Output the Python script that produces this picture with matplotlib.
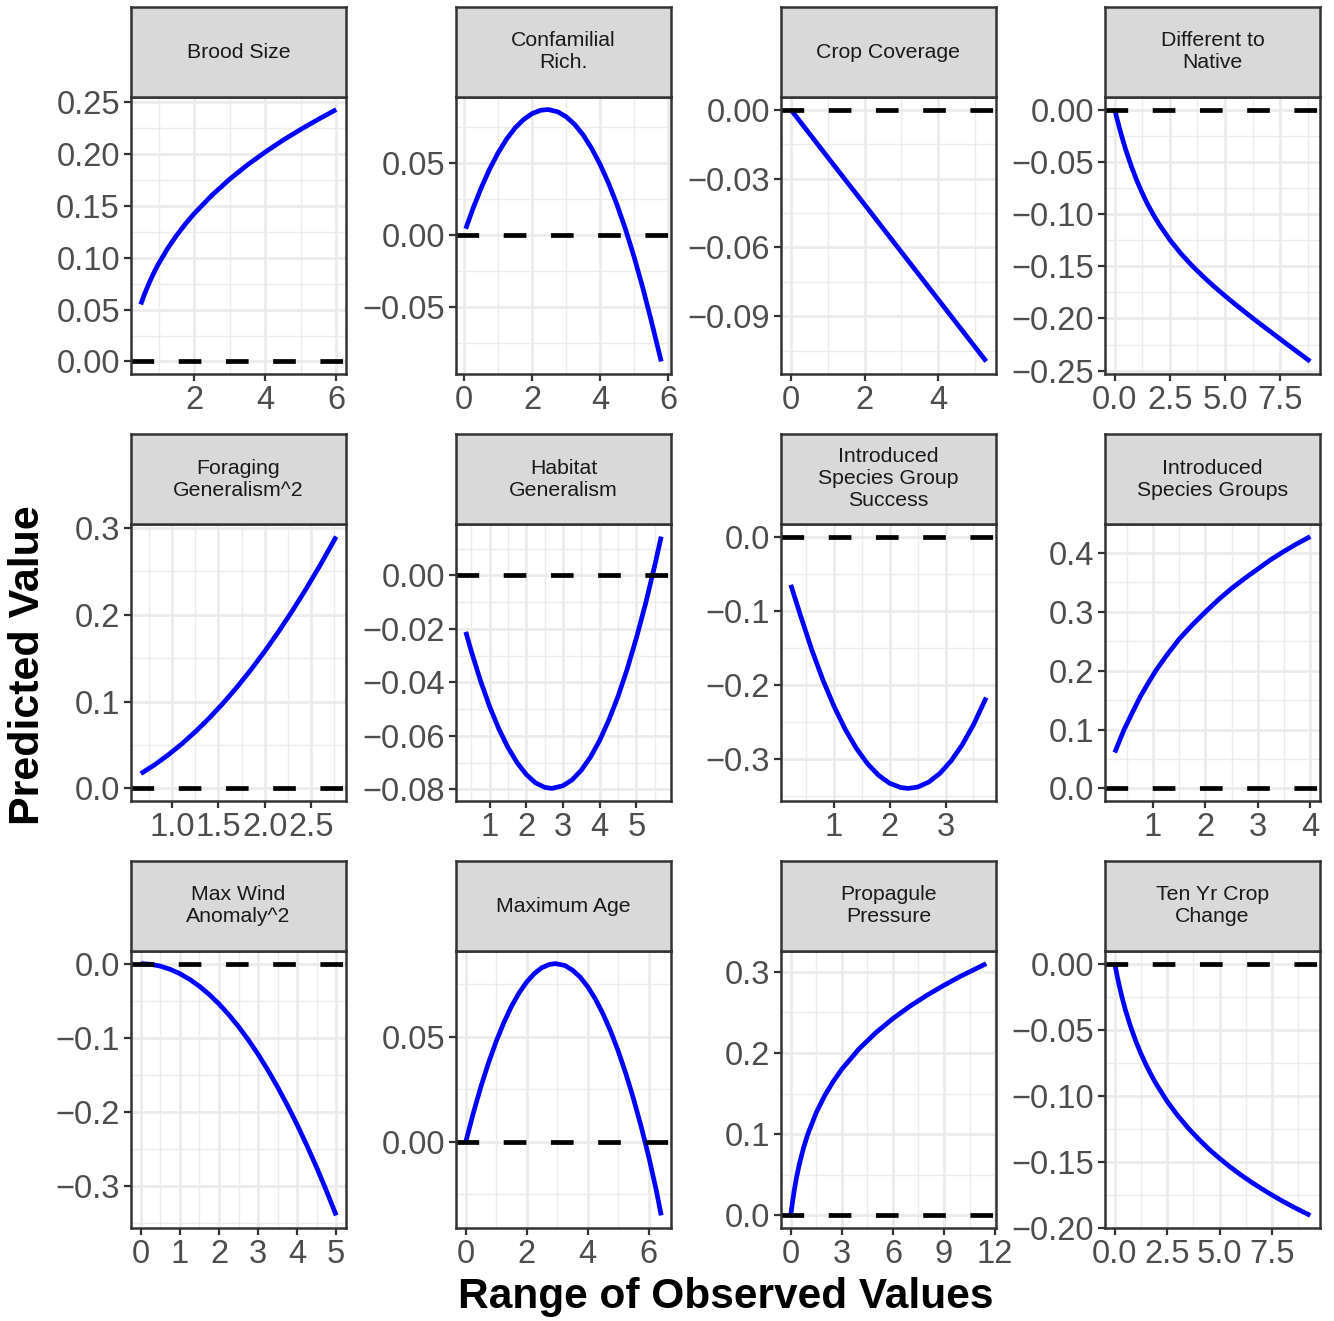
import matplotlib
matplotlib.use("Agg")
import matplotlib.pyplot as plt
from matplotlib.ticker import AutoMinorLocator, FixedLocator

plt.rcParams['font.family'] = ['Liberation Sans', 'DejaVu Sans']

# ---------------- data ----------------
titles = ["Brood Size", "Confamilial\nRich.", "Crop Coverage", "Different to\nNative",
          "Foraging\nGeneralism^2", "Habitat\nGeneralism", "Introduced\nSpecies Group\nSuccess",
          "Introduced\nSpecies Groups", "Max Wind\nAnomaly^2", "Maximum Age",
          "Propagule\nPressure", "Ten Yr Crop\nChange"]

brood_x = [0.5, 0.6, 0.75, 0.9, 1.0, 1.25, 1.5, 1.75, 2.0, 2.5, 3.0, 3.5, 4.0, 4.5, 5.0, 5.5, 6.0]
brood_y = [0.0550, 0.0645, 0.0769, 0.0877, 0.0942, 0.1087, 0.1212, 0.1324, 0.1425, 0.1603,
           0.1758, 0.1896, 0.2020, 0.2134, 0.2239, 0.2337, 0.2430]

confam_x = [0.05, 0.25, 0.5, 0.75, 1.0, 1.25, 1.5, 1.75, 2.0, 2.25, 2.44, 2.5, 2.75, 3.0, 3.25,
            3.5, 3.75, 4.0, 4.25, 4.5, 4.75, 5.0, 5.25, 5.5, 5.8]
confam_y = [0.0042, 0.0175, 0.0324, 0.0456, 0.0569, 0.0665, 0.0742, 0.0801, 0.0842, 0.0865,
            0.0870, 0.0869, 0.0855, 0.0821, 0.0768, 0.0695, 0.0602, 0.0490, 0.0359, 0.0208,
            0.0038, -0.0152, -0.0362, -0.0591, -0.0880]

crop_x = [0.0, 1.0, 2.0, 3.0, 4.0, 5.0, 5.3]
crop_y = [0.0, -0.0207, -0.0413, -0.062, -0.0827, -0.1034, -0.1096]

diff_x = [0.0, 0.1, 0.2, 0.35, 0.5, 0.75, 1.0, 1.25, 1.5, 1.75, 2.0, 2.5, 3.0, 3.5, 4.0, 4.5,
          5.0, 5.5, 6.0, 6.5, 7.0, 7.5, 8.0, 8.5, 8.86]
diff_y = [0.0, -0.0086, -0.0167, -0.0281, -0.0386, -0.0542, -0.0680, -0.0802, -0.0911, -0.1007,
          -0.1095, -0.1248, -0.1379, -0.1494, -0.1597, -0.1694, -0.1784, -0.1871, -0.1955,
          -0.2037, -0.2117, -0.2197, -0.2276, -0.2355, -0.2411]

forage_x = [0.66, 0.8, 0.95, 1.1, 1.25, 1.4, 1.55, 1.7, 1.85, 2.0, 2.15, 2.3, 2.45, 2.6, 2.775]
forage_y = [0.0170, 0.0265, 0.0380, 0.0509, 0.0652, 0.0809, 0.0980, 0.1165, 0.1364, 0.1577,
            0.1804, 0.2045, 0.2300, 0.2569, 0.2900]

habitat_x = [0.35, 0.5, 0.75, 1.0, 1.25, 1.5, 1.75, 2.0, 2.25, 2.5, 2.7, 3.0, 3.25, 3.5, 3.75,
             4.0, 4.25, 4.5, 4.75, 5.0, 5.25, 5.5, 5.68]
habitat_y = [-0.0211, -0.0283, -0.0393, -0.0490, -0.0573, -0.0643, -0.0700, -0.0744, -0.0775,
             -0.0792, -0.0796, -0.0786, -0.0764, -0.0728, -0.0679, -0.0617, -0.0541, -0.0453,
             -0.0351, -0.0235, -0.0107, 0.0035, 0.0145]

success_x = [0.224, 0.4, 0.6, 0.8, 1.0, 1.2, 1.4, 1.6, 1.8, 2.0, 2.2, 2.33, 2.5, 2.7, 2.9, 3.1,
             3.3, 3.5, 3.73]
success_y = [-0.0650, -0.1067, -0.1524, -0.1932, -0.2289, -0.2597, -0.2854, -0.3062, -0.3219,
             -0.3327, -0.3384, -0.3395, -0.3377, -0.3309, -0.3192, -0.3024, -0.2807, -0.2539,
             -0.2170]

groups_x = [0.269, 0.35, 0.447, 0.6, 0.75, 0.9, 1.05, 1.25, 1.5, 1.75, 2.0, 2.25, 2.5, 2.75,
            3.0, 3.25, 3.5, 3.75, 4.0]
groups_y = [0.061, 0.079, 0.100, 0.128, 0.155, 0.178, 0.200, 0.225, 0.254, 0.278, 0.300, 0.321,
            0.340, 0.357, 0.373, 0.389, 0.403, 0.416, 0.428]

wind_x = [0.0, 0.25, 0.5, 0.75, 1.0, 1.25, 1.5, 1.75, 2.0, 2.25, 2.5, 2.75, 3.0, 3.25, 3.5,
          3.75, 4.0, 4.25, 4.5, 4.75, 5.0]
wind_y = [0.0, -0.0009, -0.0034, -0.0077, -0.0136, -0.0213, -0.0306, -0.0417, -0.0544, -0.0689,
          -0.0850, -0.1029, -0.1224, -0.1437, -0.1666, -0.1913, -0.2176, -0.2457, -0.2754,
          -0.3069, -0.3400]

age_x = [0.0, 0.25, 0.5, 0.75, 1.0, 1.25, 1.5, 1.75, 2.0, 2.25, 2.5, 2.75, 2.94, 3.25, 3.5,
         3.75, 4.0, 4.25, 4.5, 4.75, 5.0, 5.25, 5.5, 5.75, 6.0, 6.25, 6.41]
age_y = [0.0, 0.0138, 0.0264, 0.0377, 0.0478, 0.0567, 0.0644, 0.0708, 0.0760, 0.0800, 0.0828,
         0.0843, 0.0847, 0.0838, 0.0816, 0.0783, 0.0737, 0.0679, 0.0608, 0.0526, 0.0431,
         0.0324, 0.0205, 0.0073, -0.0071, -0.0232, -0.0350]

prop_x = [0.0, 0.05, 0.1, 0.2, 0.35, 0.5, 0.75, 1.0, 1.5, 2.0, 2.5, 3.0, 4.0, 5.0, 6.0, 7.0,
          8.0, 9.0, 10.0, 11.48]
prop_y = [0.0, 0.0086, 0.0164, 0.0304, 0.0480, 0.0628, 0.0832, 0.1000, 0.1268, 0.1478, 0.1652,
          0.1801, 0.2049, 0.2251, 0.2424, 0.2576, 0.2711, 0.2834, 0.2948, 0.3101]

tenyr_x = [0.0, 0.1, 0.2, 0.35, 0.5, 0.75, 1.0, 1.25, 1.5, 1.75, 2.0, 2.5, 3.0, 3.5, 4.0, 4.5,
           5.0, 5.5, 6.0, 6.5, 7.0, 7.5, 8.0, 8.5, 9.0, 9.32]
tenyr_y = [0.0, -0.0083, -0.0157, -0.0258, -0.0347, -0.0475, -0.0586, -0.0683, -0.0769, -0.0847,
           -0.0918, -0.1043, -0.1150, -0.1245, -0.1329, -0.1406, -0.1475, -0.1539, -0.1598,
           -0.1653, -0.1704, -0.1752, -0.1798, -0.1841, -0.1881, -0.1906]

brood_xt = ["2", "4", "6"]
brood_yt = ["0.00", "0.05", "0.10", "0.15", "0.20", "0.25"]
confam_xt = ["0", "2", "4", "6"]
confam_yt = ["-0.05", "0.00", "0.05"]
crop_xt = ["0", "2", "4"]
crop_yt = ["-0.09", "-0.06", "-0.03", "0.00"]
diff_xt = ["0.0", "2.5", "5.0", "7.5"]
diff_yt = ["-0.25", "-0.20", "-0.15", "-0.10", "-0.05", "0.00"]
forage_xt = ["1.0", "1.5", "2.0", "2.5"]
forage_yt = ["0.0", "0.1", "0.2", "0.3"]
habitat_xt = ["1", "2", "3", "4", "5"]
habitat_yt = ["-0.08", "-0.06", "-0.04", "-0.02", "0.00"]
success_xt = ["1", "2", "3"]
success_yt = ["-0.3", "-0.2", "-0.1", "0.0"]
groups_xt = ["1", "2", "3", "4"]
groups_yt = ["0.0", "0.1", "0.2", "0.3", "0.4"]
wind_xt = ["0", "1", "2", "3", "4", "5"]
wind_yt = ["-0.3", "-0.2", "-0.1", "0.0"]
age_xt = ["0", "2", "4", "6"]
age_yt = ["0.00", "0.05"]
prop_xt = ["0", "3", "6", "9", "12"]
prop_yt = ["0.0", "0.1", "0.2", "0.3"]
tenyr_xt = ["0.0", "2.5", "5.0", "7.5"]
tenyr_yt = ["-0.20", "-0.15", "-0.10", "-0.05", "0.00"]

xlabel = "Range of Observed Values"
ylabel = "Predicted Value"

panels = [
    (brood_x, brood_y, brood_xt, brood_yt),
    (confam_x, confam_y, confam_xt, confam_yt),
    (crop_x, crop_y, crop_xt, crop_yt),
    (diff_x, diff_y, diff_xt, diff_yt),
    (forage_x, forage_y, forage_xt, forage_yt),
    (habitat_x, habitat_y, habitat_xt, habitat_yt),
    (success_x, success_y, success_xt, success_yt),
    (groups_x, groups_y, groups_xt, groups_yt),
    (wind_x, wind_y, wind_xt, wind_yt),
    (age_x, age_y, age_xt, age_yt),
    (prop_x, prop_y, prop_xt, prop_yt),
    (tenyr_x, tenyr_y, tenyr_xt, tenyr_yt),
]

# ---------------- layout ----------------
W, H = 1334, 1321
fig = plt.figure(figsize=(W / 100, H / 100), dpi=100)
fig.patch.set_facecolor("white")

col_left = [131, 456, 781, 1105]
row_top = [7, 434, 861]
PW, SH, PH = 215, 90, 277

BORDER = "#333333"
GRID = "#EBEBEB"


def frac(l, t, w, h):
    return [l / W, 1 - (t + h) / H, w / W, h / H]


def lab(s):
    return s.replace("-", "\u2212")


for i, (xs, ys, xt, yt) in enumerate(panels):
    r, c = divmod(i, 4)
    left, top = col_left[c], row_top[r]

    ax = fig.add_axes(frac(left, top + SH, PW, PH))
    sax = fig.add_axes(frac(left, top, PW, SH))

    # limits: data range (+0 for the reference line) expanded by 5 %
    x0, x1 = min(xs), max(xs)
    dx = x1 - x0
    ax.set_xlim(x0 - 0.05 * dx, x1 + 0.05 * dx)
    y0, y1 = min(min(ys), 0.0), max(max(ys), 0.0)
    dy = y1 - y0
    ax.set_ylim(y0 - 0.05 * dy, y1 + 0.05 * dy)

    ax.xaxis.set_major_locator(FixedLocator([float(v) for v in xt]))
    ax.yaxis.set_major_locator(FixedLocator([float(v) for v in yt]))
    ax.set_xticklabels([lab(v) for v in xt])
    ax.set_yticklabels([lab(v) for v in yt])
    ax.xaxis.set_minor_locator(AutoMinorLocator(2))
    ax.yaxis.set_minor_locator(AutoMinorLocator(2))

    ax.set_facecolor("white")
    ax.set_axisbelow(True)
    ax.grid(which="major", color=GRID, lw=2.0)
    ax.grid(which="minor", color=GRID, lw=1.0)
    ax.tick_params(which="major", length=5, width=1.6, color=BORDER,
                   labelsize=23.5, labelcolor="#4D4D4D", pad=3)
    ax.tick_params(which="minor", length=0)
    for sp in ax.spines.values():
        sp.set_color(BORDER)
        sp.set_linewidth(1.8)
        sp.set_zorder(5)

    ax.plot(xs, ys, color="#0000FF", lw=3.4, solid_capstyle="butt",
            solid_joinstyle="round", zorder=3)
    ax.axhline(0, color="black", lw=3.4, dashes=(4.8, 5.2), zorder=4)

    # strip
    sax.set_facecolor("#D9D9D9")
    sax.set_xticks([])
    sax.set_yticks([])
    for sp in sax.spines.values():
        sp.set_color(BORDER)
        sp.set_linewidth(1.8)
    sax.text(0.5, 0.5, titles[i], ha="center", va="center", fontsize=15.3,
             color="#1A1A1A", linespacing=1.2, transform=sax.transAxes)

fig.text(725.5 / W, 1 - 1297 / H, xlabel, ha="center", va="center",
         fontsize=30.5, fontweight="bold", color="black")
fig.text(28 / W, 1 - 665 / H, ylabel, ha="center", va="center", rotation=90,
         fontsize=31, fontweight="bold", color="black")

fig.savefig("out.png", dpi=100, facecolor="white")
